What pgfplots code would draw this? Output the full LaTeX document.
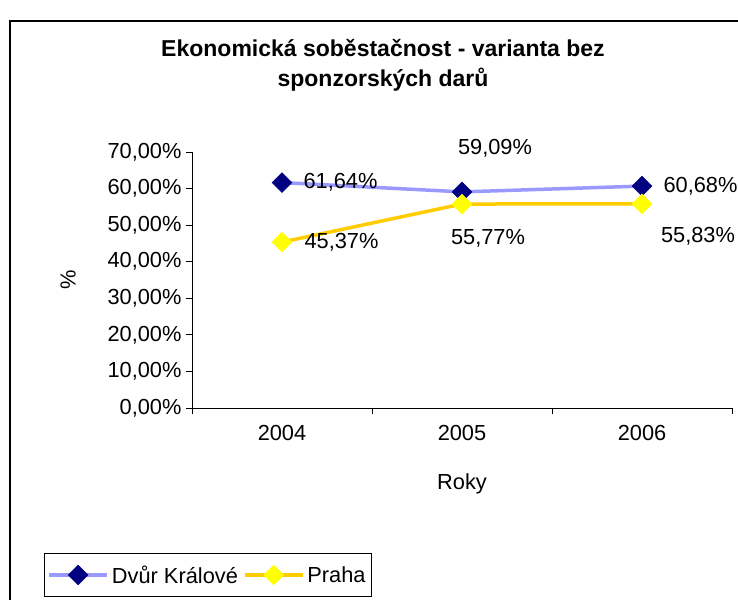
\documentclass[border=0pt]{standalone}
\usepackage{fontspec}
\setmainfont{Liberation Sans}
\usepackage{pgfplots}
\pgfplotsset{compat=1.18}
\definecolor{dkline}{HTML}{9999FF}
\definecolor{dkmark}{HTML}{000080}
\definecolor{prline}{HTML}{FFCC00}
\definecolor{prmark}{HTML}{FFFF00}
\begin{document}
\begin{tikzpicture}[x=1pt,y=1pt,font=\fontsize{21.8pt}{26pt}\selectfont]
\useasboundingbox (0,0) rectangle (738,599);
\draw[line width=1.1pt] (10,-20) rectangle (760,578);
\node[font=\fontsize{23pt}{26pt}\selectfont\bfseries] at (383,551) {Ekonomická soběstačnost - varianta bez};
\node[font=\fontsize{23pt}{26pt}\selectfont\bfseries] at (383,519) {sponzorských darů};
\begin{axis}[
  at={(192pt,191pt)}, anchor=south west,
  scale only axis, width=540pt, height=256pt,
  xmin=-0.5, xmax=2.5, ymin=0, ymax=70,
  axis lines*=left,
  axis line style={line width=0.9pt},
  clip=false,
  xtick={0,1,2}, xticklabels={2004,2005,2006},
  minor xtick={-0.5,0.5,1.5,2.5},
  major x tick style={draw=none},
  minor tick length=6pt,
  major tick length=6pt,
  tick align=outside,
  tick style={line width=0.9pt, black},
  ytick={0,10,20,30,40,50,60,70},
  yticklabels={{0,00\%},{10,00\%},{20,00\%},{30,00\%},{40,00\%},{50,00\%},{60,00\%},{70,00\%}},
  yticklabel style={font=\fontsize{21.8pt}{26pt}\selectfont, xshift=-1pt},
  xticklabel style={font=\fontsize{21.8pt}{26pt}\selectfont, yshift=-8pt},
  legend columns=2,
  legend style={at={(axis description cs:-0.2741,-0.7383)}, anchor=south west,
    draw=black, line width=0.9pt, inner xsep=3pt, inner ysep=10pt,
    font=\fontsize{21.8pt}{26pt}\selectfont,
    nodes={inner xsep=3pt},
    /tikz/every even column/.append style={column sep=2pt}},
  legend cell align=left,
  legend image code/.code={\draw[mark repeat=2,mark phase=2,#1] plot coordinates {(0pt,0pt) (29pt,0pt) (58pt,0pt)};},
]
\addplot[color=dkline, line width=3.5pt, mark=square*, mark size=7pt,
  mark options={fill=dkmark, draw=dkmark, line width=0.5pt, rotate=45}]
  coordinates {(0,61.64) (1,59.09) (2,60.68)};
\addlegendentry{Dvůr Králové}
\addplot[color=prline, line width=3.5pt, mark=square*, mark size=7pt,
  mark options={fill=prmark, draw=prmark, line width=0.5pt, rotate=45}]
  coordinates {(0,45.37) (1,55.77) (2,55.83)};
\addlegendentry{Praha}
\node[anchor=west, xshift=18pt] at (axis cs:0,61.64) {61,64\%};
\node[xshift=33pt, yshift=44pt] at (axis cs:1,59.09) {59,09\%};
\node[anchor=west, xshift=18pt] at (axis cs:2,60.68) {60,68\%};
\node[anchor=west, xshift=19pt] at (axis cs:0,45.37) {45,37\%};
\node[xshift=26pt, yshift=-34pt] at (axis cs:1,55.77) {55,77\%};
\node[xshift=56pt, yshift=-32pt] at (axis cs:2,55.83) {55,83\%};
\node[yshift=-76pt] at (axis description cs:0.5,0) {Roky};
\end{axis}
\node[rotate=90] at (68,319) {\%};
\end{tikzpicture}
\end{document}
